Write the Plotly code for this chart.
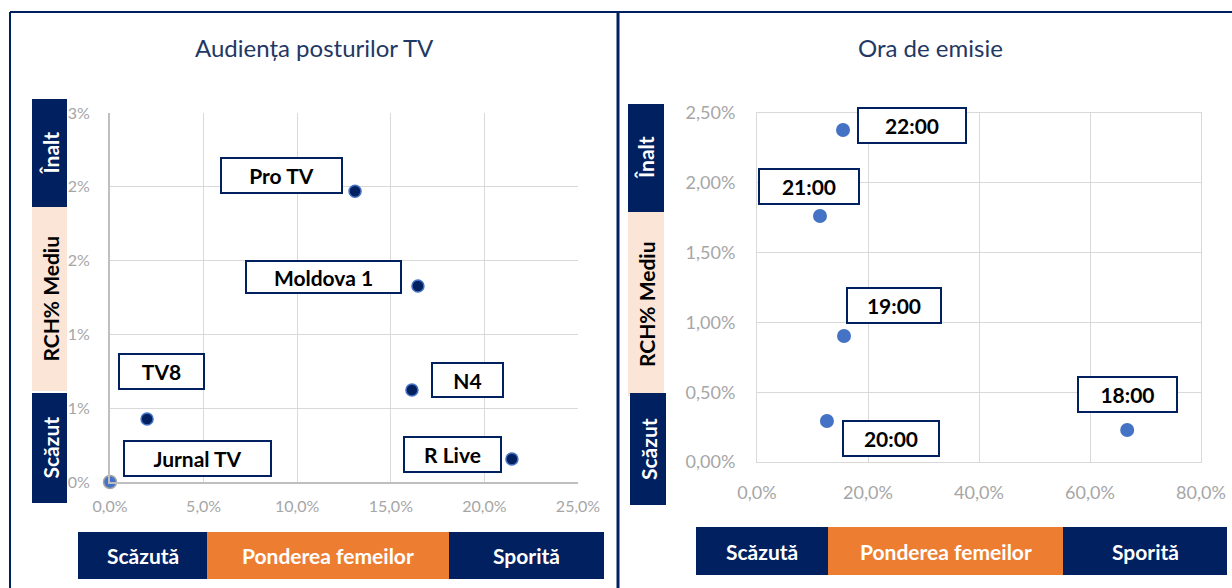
import plotly.graph_objects as go

W, H = 1232, 588

# ---------------- data ----------------
tv_names = ["Pro TV", "Moldova 1", "N4", "TV8", "R Live", "Jurnal TV"]
tv_women_share = [0.1309, 0.1645, 0.1613, 0.0198, 0.2147, 0.0]
tv_rch = [0.0197, 0.01328, 0.00623, 0.00427, 0.00156, 0.0]

hour_names = ["22:00", "21:00", "19:00", "20:00", "18:00"]
hour_women_share = [0.155, 0.1135, 0.1568, 0.126, 0.667]
hour_rch = [0.02378, 0.01762, 0.00903, 0.00294, 0.00229]

left_x_tickvals = [0, 0.05, 0.10, 0.15, 0.20, 0.25]
left_x_ticktext = ["0,0%", "5,0%", "10,0%", "15,0%", "20,0%", "25,0%"]
left_y_tickvals = [0, 0.005, 0.010, 0.015, 0.020, 0.025]
left_y_ticktext = ["0%", "1%", "1%", "2%", "2%", "3%"]
right_x_tickvals = [0, 0.2, 0.4, 0.6, 0.8]
right_x_ticktext = ["0,0%", "20,0%", "40,0%", "60,0%", "80,0%"]
right_y_tickvals = [0, 0.005, 0.010, 0.015, 0.020, 0.025]
right_y_ticktext = ["0,00%", "0,50%", "1,00%", "1,50%", "2,00%", "2,50%"]

title_left = "Audiența posturilor TV"
title_right = "Ora de emisie"
band_y_texts = ["Înalt", "RCH% Mediu", "Scăzut"]
band_x_texts = ["Scăzută", "Ponderea femeilor", "Sporită"]

# ---------------- styles ----------------
NAVY = "#002060"
ORANGE = "#ED7D31"
PEACH = "#FBE5D6"
BLUE = "#4472C4"
GRID = "#D9D9D9"
TICK = "#A6A6A6"
FONT = "Lato"


def px(x):
    return x / W


def py(y):
    return 1 - y / H


fig = go.Figure()

# left scatter: Jurnal TV styled differently
main_idx = [i for i, n in enumerate(tv_names) if n != "Jurnal TV"]
jt_idx = [i for i, n in enumerate(tv_names) if n == "Jurnal TV"]
fig.add_trace(go.Scatter(
    x=[tv_women_share[i] for i in main_idx], y=[tv_rch[i] for i in main_idx],
    mode="markers", xaxis="x", yaxis="y", cliponaxis=False,
    marker=dict(size=12, color=NAVY, line=dict(color=BLUE, width=1.5)),
    showlegend=False, hoverinfo="skip"))
fig.add_trace(go.Scatter(
    x=[tv_women_share[i] for i in jt_idx], y=[tv_rch[i] for i in jt_idx],
    mode="markers", xaxis="x", yaxis="y", cliponaxis=False,
    marker=dict(size=13, color=BLUE, line=dict(color="#A5A5A5", width=1.5)),
    showlegend=False, hoverinfo="skip"))

fig.add_trace(go.Scatter(
    x=hour_women_share, y=hour_rch, mode="markers", xaxis="x2", yaxis="y2",
    cliponaxis=False, marker=dict(size=14, color=BLUE),
    showlegend=False, hoverinfo="skip"))

# label box offsets (pixel shift from point to box centre) and box sizes
tv_label_layout = {
    "Pro TV": (-74, 16, 123, 37),
    "Moldova 1": (-94, 9, 157, 34),
    "N4": (56, 10, 73, 36),
    "TV8": (14, 47, 87, 37),
    "R Live": (-59, 4, 99, 37),
    "Jurnal TV": (87, 24, 149, 37),
}
hour_label_layout = {
    "22:00": (69, 5, 110, 37),
    "21:00": (-11, 30, 102, 37),
    "19:00": (50, 30, 96, 37),
    "20:00": (64, -18, 98, 37),
    "18:00": (0, 36, 101, 37),
}

annotations = []
for n, xv, yv in zip(tv_names, tv_women_share, tv_rch):
    dx, dy, bw, bh = tv_label_layout[n]
    annotations.append(dict(
        x=xv, y=yv, xref="x", yref="y", text="<b>%s</b>" % n, showarrow=False,
        xanchor="center", yanchor="middle",
        xshift=dx, yshift=dy, width=bw - 4, height=bh - 4, borderpad=0,
        bordercolor=NAVY, borderwidth=2, bgcolor="white",
        font=dict(family=FONT, size=21, color="black"), align="center", valign="middle"))
for n, xv, yv in zip(hour_names, hour_women_share, hour_rch):
    dx, dy, bw, bh = hour_label_layout[n]
    annotations.append(dict(
        x=xv, y=yv, xref="x2", yref="y2", text="<b>%s</b>" % n, showarrow=False,
        xanchor="center", yanchor="middle",
        xshift=dx, yshift=dy, width=bw - 4, height=bh - 4, borderpad=0,
        bordercolor=NAVY, borderwidth=2, bgcolor="white",
        font=dict(family=FONT, size=21, color="black"), align="center", valign="middle"))

# titles
annotations.append(dict(x=px(314), y=py(47), xref="paper", yref="paper", text=title_left,
                        xanchor="center", yanchor="middle",
                        showarrow=False, font=dict(family=FONT, size=24, color="#1F3864")))
annotations.append(dict(x=px(930), y=py(47), xref="paper", yref="paper", text=title_right,
                        xanchor="center", yanchor="middle",
                        showarrow=False, font=dict(family=FONT, size=24, color="#1F3864")))

shapes = []
# vertical bands (y category boxes)
vbands = [
    # (x0, x1, y0, y1, fill, textcolor)
    [(32, 67, 99, 207, NAVY, "white"), (32, 67, 207, 391, PEACH, "black"), (32, 67, 393, 503, NAVY, "white")],
    [(628, 664, 104, 212, NAVY, "white"), (628, 664, 212, 396, PEACH, "black"), (630, 666, 393, 505, NAVY, "white")],
]
for group in vbands:
    for (x0, x1, y0, y1, fill, tc), txt in zip(group, band_y_texts):
        shapes.append(dict(type="rect", xref="paper", yref="paper", x0=px(x0), x1=px(x1),
                           y0=py(y1), y1=py(y0), fillcolor=fill, line=dict(width=0), layer="below"))
        annotations.append(dict(x=px((x0 + x1) / 2), y=py((y0 + y1) / 2), xref="paper", yref="paper",
                                xanchor="center", yanchor="middle",
                                text="<b>%s</b>" % txt, textangle=-90, showarrow=False,
                                font=dict(family=FONT, size=21, color=tc)))

hbands = [
    [(78, 207, 532, 579, NAVY, "white"), (207, 449, 532, 579, ORANGE, "white"), (449, 604, 532, 579, NAVY, "white")],
    [(696, 828, 527, 575, NAVY, "white"), (828, 1063, 527, 575, ORANGE, "white"), (1063, 1227, 527, 575, NAVY, "white")],
]
for group in hbands:
    for (x0, x1, y0, y1, fill, tc), txt in zip(group, band_x_texts):
        shapes.append(dict(type="rect", xref="paper", yref="paper", x0=px(x0), x1=px(x1),
                           y0=py(y1), y1=py(y0), fillcolor=fill, line=dict(width=0), layer="below"))
        annotations.append(dict(x=px((x0 + x1) / 2), y=py((y0 + y1) / 2), xref="paper", yref="paper",
                                xanchor="center", yanchor="middle",
                                text="<b>%s</b>" % txt, showarrow=False,
                                font=dict(family=FONT, size=21, color=tc)))

# frame lines
shapes.append(dict(type="line", xref="paper", yref="paper", x0=px(10), x1=px(10), y0=0, y1=py(12),
                   line=dict(color=NAVY, width=2)))
shapes.append(dict(type="line", xref="paper", yref="paper", x0=px(10), x1=1, y0=py(12), y1=py(12),
                   line=dict(color=NAVY, width=2)))
shapes.append(dict(type="line", xref="paper", yref="paper", x0=px(618), x1=px(618), y0=0, y1=py(12),
                   line=dict(color=NAVY, width=3)))

axis_common = dict(showgrid=True, gridcolor=GRID, gridwidth=1, zeroline=False, ticks="outside",
                   tickcolor="rgba(0,0,0,0)", fixedrange=True, automargin=False)

fig.update_layout(
    width=W, height=H, margin=dict(l=0, r=0, t=0, b=0, pad=0, autoexpand=False),
    paper_bgcolor="white", plot_bgcolor="white", showlegend=False,
    font=dict(family=FONT),
    xaxis=dict(domain=[px(110), px(578)], range=[0, 0.25], anchor="y",
               tickvals=left_x_tickvals, ticktext=left_x_ticktext, ticklen=9,
               tickfont=dict(family=FONT, size=16, color=TICK),
               showline=True, linecolor="#BFBFBF", linewidth=2, **axis_common),
    yaxis=dict(domain=[py(482), py(113)], range=[0, 0.025], anchor="x",
               tickvals=left_y_tickvals, ticktext=left_y_ticktext, ticklen=15,
               tickfont=dict(family=FONT, size=16, color=TICK),
               showline=True, linecolor="#BFBFBF", linewidth=2, **axis_common),
    xaxis2=dict(domain=[px(757), px(1201)], range=[0, 0.8], anchor="y2",
                tickvals=right_x_tickvals, ticktext=right_x_ticktext, ticklen=14,
                tickfont=dict(family=FONT, size=18, color=TICK),
                showline=True, linecolor=GRID, linewidth=1, mirror=True, **axis_common),
    yaxis2=dict(domain=[py(462), py(113)], range=[0, 0.025], anchor="x2",
                tickvals=right_y_tickvals, ticktext=right_y_ticktext, ticklen=17,
                tickfont=dict(family=FONT, size=18, color=TICK),
                showline=True, linecolor=GRID, linewidth=1, mirror=True, **axis_common),
    shapes=shapes, annotations=annotations,
)

fig.write_html("out.html", config={"displayModeBar": False, "staticPlot": True},
               post_script="document.body.style.margin='0';document.body.style.overflow='hidden';")
